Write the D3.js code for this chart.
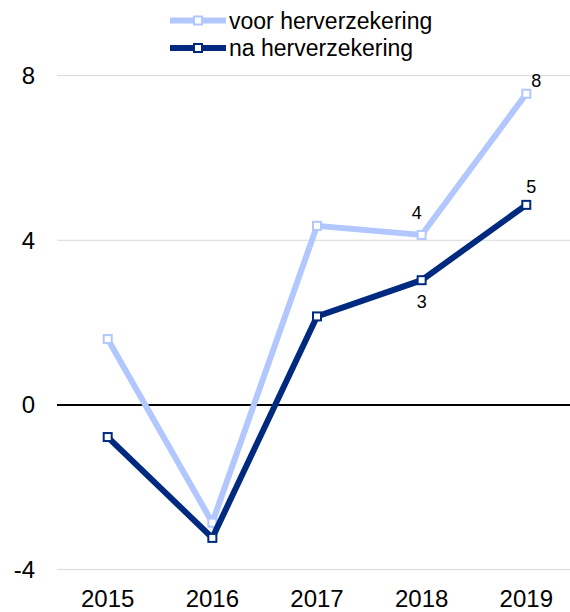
<!DOCTYPE html>
<html><head><meta charset="utf-8">
<script src="https://cdn.jsdelivr.net/npm/d3@7/dist/d3.min.js"></script>
<style>body{margin:0;background:#fff}svg{display:block;font-family:"Liberation Sans",Arial,sans-serif}</style>
</head><body><svg id="c" width="570" height="612"></svg>
<script>
const years = ["2015","2016","2017","2018","2019"];
const voor = [1.6, -2.86, 4.35, 4.13, 7.56];
const na = [-0.78, -3.23, 2.15, 3.03, 4.86];
const yTicks = [-4, 0, 4, 8];
const seriesNames = ["voor herverzekering", "na herverzekering"];
const labelsVoor = [null, null, null, "4", "8"];
const labelsNa = [null, null, null, "3", "5"];

const svg = d3.select("#c");
const x = d3.scalePoint().domain(years).range([107.7, 526.3]);
const y = d3.scaleLinear().domain([-4, 8]).range([569.6, 75.6]);
const colors = ["#b3c7ff", "#002a7f"];

// gridlines
svg.append("g").selectAll("line").data(yTicks.filter(d => d !== 0)).join("line")
  .attr("x1", 57).attr("x2", 570).attr("y1", d => y(d)).attr("y2", d => y(d))
  .attr("stroke", "#d9d9d9").attr("stroke-width", 1);
svg.append("line").attr("x1", 57).attr("x2", 570).attr("y1", y(0)).attr("y2", y(0))
  .attr("stroke", "#000").attr("stroke-width", 2);

// y labels
svg.append("g").selectAll("text").data(yTicks).join("text")
  .attr("x", 35).attr("y", d => y(d)).attr("dy", "0.35em").attr("text-anchor", "end")
  .attr("font-size", 24).attr("fill", "#000").text(d => d);

// x labels
svg.append("g").selectAll("text").data(years).join("text")
  .attr("x", d => x(d)).attr("y", 607).attr("text-anchor", "middle")
  .attr("font-size", 24).attr("fill", "#000").text(d => d);

const line = d3.line().x((d, i) => x(years[i])).y(d => y(d));
[voor, na].forEach((s, k) => {
  svg.append("path").datum(s).attr("d", line).attr("fill", "none")
    .attr("stroke", colors[k]).attr("stroke-width", 6).attr("stroke-linejoin", "miter");
  svg.append("g").selectAll("rect").data(s).join("rect")
    .attr("x", (d, i) => x(years[i]) - 4).attr("y", d => y(d) - 4)
    .attr("width", 8).attr("height", 8).attr("fill", "#fff")
    .attr("stroke", colors[k]).attr("stroke-width", 2);
});

// data labels
const lab = svg.append("g").attr("font-size", 18).attr("fill", "#000").attr("text-anchor", "middle");
labelsVoor.forEach((t, i) => {
  if (!t) return;
  const dx = i === 4 ? 10 : -5, dyv = i === 4 ? -13 : -22;
  lab.append("text").attr("x", x(years[i]) + dx).attr("y", y(voor[i]) + dyv).attr("dy", "0.35em").text(t);
});
labelsNa.forEach((t, i) => {
  if (!t) return;
  const dx = i === 4 ? 5 : 0, dyv = i === 4 ? -18 : 22;
  lab.append("text").attr("x", x(years[i]) + dx).attr("y", y(na[i]) + dyv).attr("dy", "0.35em").text(t);
});

// legend
const leg = svg.append("g");
seriesNames.forEach((n, k) => {
  const ly = 20.5 + k * 27.5;
  leg.append("line").attr("x1", 170).attr("x2", 226).attr("y1", ly).attr("y2", ly)
    .attr("stroke", colors[k]).attr("stroke-width", 6);
  leg.append("rect").attr("x", 194).attr("y", ly - 4).attr("width", 8).attr("height", 8)
    .attr("fill", "#fff").attr("stroke", colors[k]).attr("stroke-width", 2);
  leg.append("text").attr("x", 229).attr("y", ly).attr("dy", "0.35em")
    .attr("font-size", 23).attr("fill", "#000").text(n);
});
</script></body></html>
